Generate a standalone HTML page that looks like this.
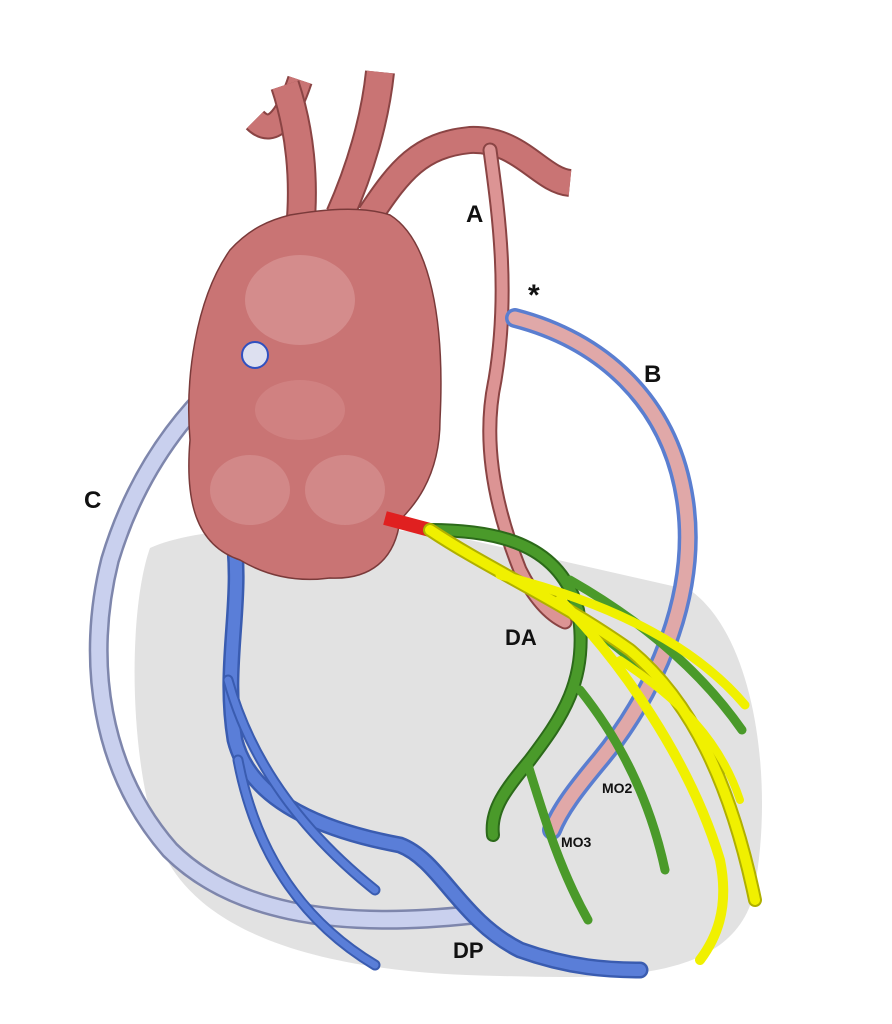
<!DOCTYPE html>
<html><head><meta charset="utf-8"><style>
body{margin:0;background:#fff}
svg{display:block}
text{font-family:"Liberation Sans",sans-serif;font-weight:bold;fill:#111}
</style></head><body>
<svg width="892" height="1024" viewBox="0 0 892 1024" xmlns="http://www.w3.org/2000/svg">
<rect width="892" height="1024" fill="#fff"/>
<!-- gray heart -->
<path d="M150,548 C210,520 380,522 470,540 L690,590 C760,640 775,800 752,900 C725,985 600,978 500,976 C350,974 200,945 160,845 C128,760 128,610 150,548 Z" fill="#e2e2e2"/>
<!-- C vessel -->
<path d="M255,355 C200,390 140,460 110,560 C85,660 100,770 170,850 C230,910 330,930 470,915" fill="none" stroke="#7e86ac" stroke-width="20" stroke-linecap="round"/>
<path d="M255,355 C200,390 140,460 110,560 C85,660 100,770 170,850 C230,910 330,930 470,915" fill="none" stroke="#c9d0ee" stroke-width="15" stroke-linecap="round"/>
<!-- blue vessels -->
<g fill="none" stroke-linecap="round">
<path d="M232,525 C245,600 222,660 235,740 C250,800 320,830 400,845 C440,860 460,920 520,950 C570,968 610,970 640,970" stroke="#3a5cb0" stroke-width="17"/>
<path d="M232,525 C245,600 222,660 235,740 C250,800 320,830 400,845 C440,860 460,920 520,950 C570,968 610,970 640,970" stroke="#5a7ed8" stroke-width="12"/>
<path d="M228,680 C250,760 300,830 375,890" stroke="#3a5cb0" stroke-width="11"/>
<path d="M228,680 C250,760 300,830 375,890" stroke="#5a7ed8" stroke-width="7"/>
<path d="M238,760 C255,850 300,920 375,965" stroke="#3a5cb0" stroke-width="11"/>
<path d="M238,760 C255,850 300,920 375,965" stroke="#5a7ed8" stroke-width="7"/>
</g>
<!-- top vessels -->
<g fill="none" stroke-linecap="butt">
<path d="M255,120 C275,140 290,110 300,80" stroke="#8a4444" stroke-width="26"/>
<path d="M255,120 C275,140 290,110 300,80" stroke="#c97474" stroke-width="22"/>
<path d="M340,215 C360,170 375,120 380,72" stroke="#8a4444" stroke-width="30"/>
<path d="M340,215 C360,170 375,120 380,72" stroke="#c97474" stroke-width="26"/>
<path d="M300,230 C305,180 300,130 285,85" stroke="#8a4444" stroke-width="30"/>
<path d="M300,230 C305,180 300,130 285,85" stroke="#c97474" stroke-width="26"/>
<path d="M370,215 C400,170 420,145 470,140 C520,138 540,180 570,183" stroke="#8a4444" stroke-width="28"/>
<path d="M370,215 C400,170 420,145 470,140 C520,138 540,180 570,183" stroke="#c97474" stroke-width="24"/>
</g>
<!-- heart body -->
<path d="M290,215 C320,210 360,205 390,215 C430,240 445,320 440,420 C440,480 410,510 400,520 C395,560 370,580 330,578 C300,582 270,578 240,560 C195,545 185,500 190,440 C185,380 195,300 230,250 C250,228 270,220 290,215 Z" fill="#c97474" stroke="#7a3a3a" stroke-width="1.5"/>
<ellipse cx="300" cy="300" rx="55" ry="45" fill="#e0a4a4" opacity="0.5"/>
<ellipse cx="250" cy="490" rx="40" ry="35" fill="#dc9c9c" opacity="0.5"/>
<ellipse cx="345" cy="490" rx="40" ry="35" fill="#dc9c9c" opacity="0.5"/>
<ellipse cx="300" cy="410" rx="45" ry="30" fill="#dc9c9c" opacity="0.35"/>
<circle cx="255" cy="355" r="13" fill="#dde0f0" stroke="#3050c0" stroke-width="2"/>
<!-- A vessel -->
<path d="M490,150 C498,210 510,290 495,380 C480,450 500,520 520,570 C535,600 550,615 565,622" fill="none" stroke="#8a4444" stroke-width="15" stroke-linecap="round"/>
<path d="M490,150 C498,210 510,290 495,380 C480,450 500,520 520,570 C535,600 550,615 565,622" fill="none" stroke="#dc9494" stroke-width="11" stroke-linecap="round"/>
<!-- B vessel -->
<path d="M515,318 C600,340 670,400 685,500 C700,600 650,700 600,760 C575,790 560,810 552,830" fill="none" stroke="#5a7ed0" stroke-width="20" stroke-linecap="round"/>
<path d="M515,318 C600,340 670,400 685,500 C700,600 650,700 600,760 C575,790 560,810 552,830" fill="none" stroke="#e0a8a8" stroke-width="13" stroke-linecap="round"/>
<!-- red -->
<path d="M385,518 L430,530" stroke="#e02020" stroke-width="14"/>
<!-- green -->
<g fill="none" stroke-linecap="round">
<path d="M430,530 C500,530 560,545 578,610 C590,680 560,720 530,760 C505,790 490,810 493,835" stroke="#2c6a1a" stroke-width="14"/>
<path d="M430,530 C500,530 560,545 578,610 C590,680 560,720 530,760 C505,790 490,810 493,835" stroke="#4a9a2a" stroke-width="10"/>
<path d="M528,765 C545,820 560,870 588,920" stroke="#4a9a2a" stroke-width="9"/>
<path d="M580,690 C620,740 650,800 665,870" stroke="#4a9a2a" stroke-width="9"/>
<path d="M570,580 C640,620 700,670 742,730" stroke="#4a9a2a" stroke-width="9"/>
<path d="M580,620 C650,670 700,720 725,770" stroke="#4a9a2a" stroke-width="8"/>
</g>
<!-- yellow -->
<g fill="none" stroke-linecap="round">
<path d="M430,530 C490,570 560,600 630,650 C690,700 730,780 755,900" stroke="#b0b000" stroke-width="14"/>
<path d="M430,530 C490,570 560,600 630,650 C690,700 730,780 755,900" stroke="#f0f000" stroke-width="10"/>
<path d="M500,575 C600,600 690,640 745,705" stroke="#f0f000" stroke-width="9"/>
<path d="M560,600 C620,660 690,760 720,860 C730,910 715,940 700,960" stroke="#f0f000" stroke-width="10"/>
<path d="M620,660 C680,700 720,740 740,800" stroke="#f0f000" stroke-width="8"/>
</g>
<text x="466" y="222" font-size="24">A</text>
<text x="528" y="305" font-size="30">*</text>
<text x="644" y="382" font-size="24">B</text>
<text x="84" y="508" font-size="24">C</text>
<text x="505" y="645" font-size="22">DA</text>
<text x="602" y="793" font-size="14">MO2</text>
<text x="561" y="847" font-size="14">MO3</text>
<text x="453" y="958" font-size="22">DP</text>
</svg>
</body></html>
